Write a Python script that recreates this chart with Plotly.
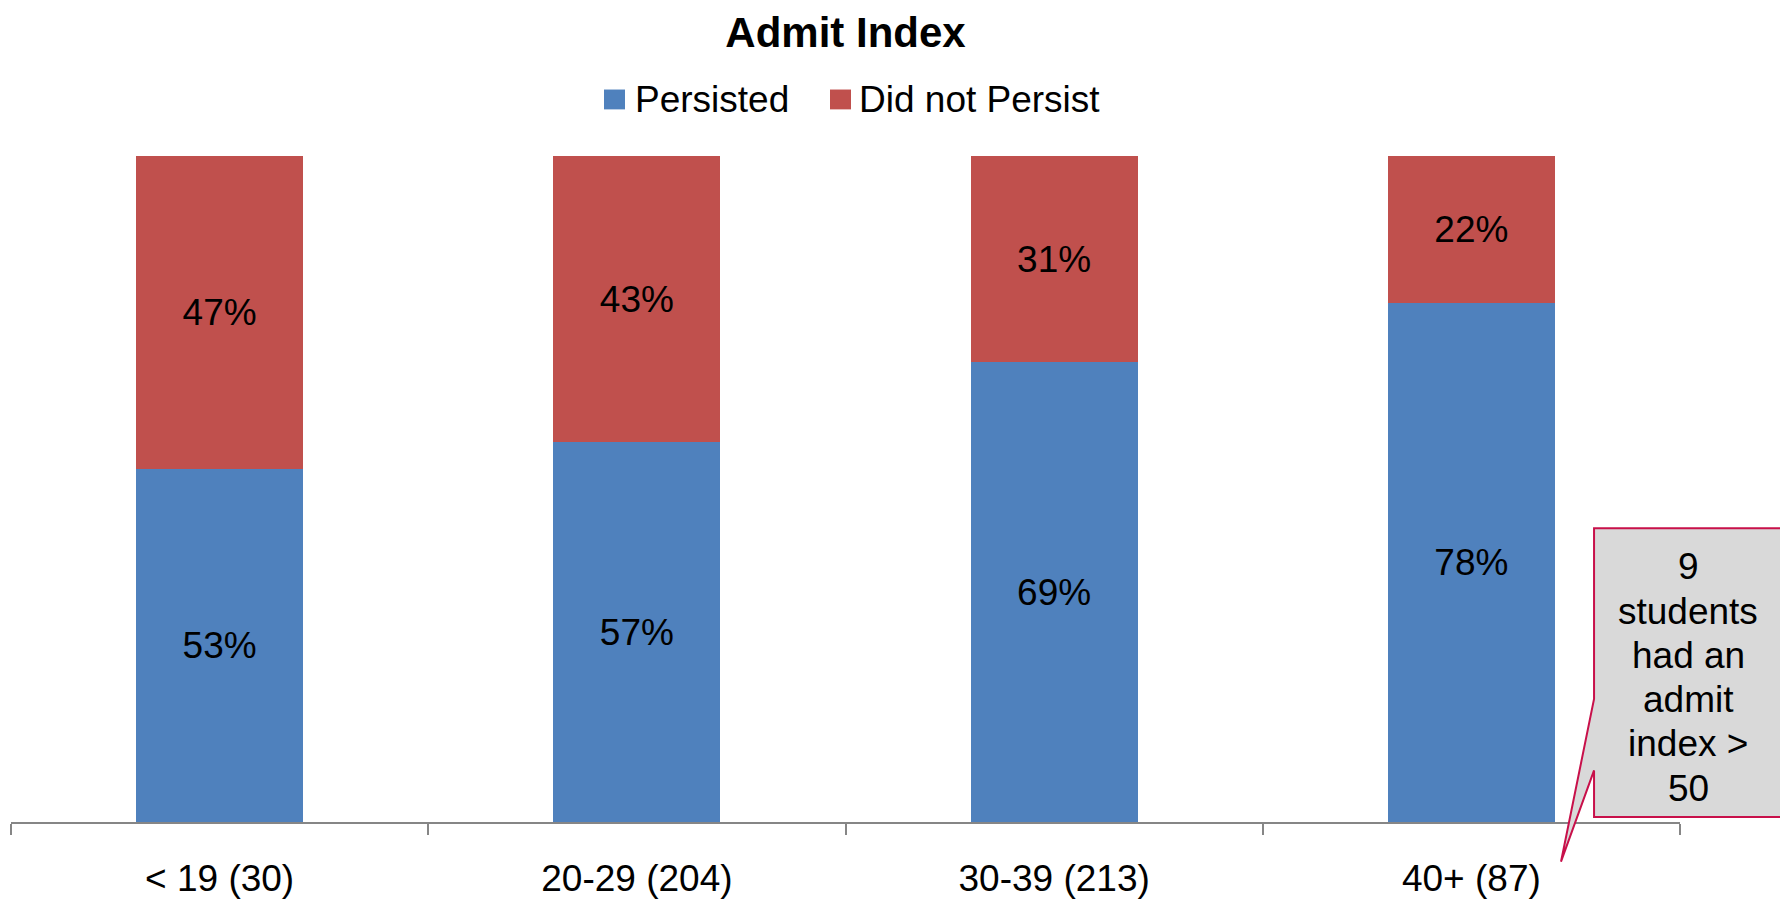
import plotly.graph_objects as go

categories = ["< 19 (30)", "20-29 (204)", "30-39 (213)", "40+ (87)"]
persisted = [53, 57, 69, 78]
did_not_persist = [47, 43, 31, 22]
series_names = ["Persisted", "Did not Persist"]
colors = ["#4F81BD", "#C0504D"]
callout_lines = ["9", "students", "had an", "admit", "index >", "50"]

FONT = "Liberation Sans, Arial, sans-serif"

fig = go.Figure()
for name, vals, col in zip(series_names, [persisted, did_not_persist], colors):
    fig.add_trace(go.Bar(
        x=categories, y=vals, name=name, marker=dict(color=col, line=dict(width=0)),
        texttemplate="%{y}%", textposition="inside", insidetextanchor="middle",
        textfont=dict(family=FONT, size=37, color="black"), showlegend=False,
    ))

fig.update_layout(
    barmode="stack", bargap=0.6,
    width=1780, height=894,
    margin=dict(l=3, r=108, t=148, b=75),
    plot_bgcolor="white", paper_bgcolor="white",
    font=dict(family=FONT, size=37, color="black"),
    title=dict(text="Admit Index", x=0.5, xref="paper", xanchor="center",
               y=1 - 24 / 894, yanchor="middle",
               font=dict(family=FONT, size=42, weight="bold", color="black")),
)
fig.update_xaxes(
    showline=True, linecolor="#868686", linewidth=2,
    ticks="outside", tickson="boundaries", ticklen=11, tickcolor="#868686", tickwidth=2,
    tickfont=dict(family=FONT, size=37, color="black"), ticklabelstandoff=23,
    showgrid=False, zeroline=False,
)
fig.update_yaxes(range=[0, 100], visible=False, showgrid=False, zeroline=False)

# Manual legend
leg = [
    dict(sq=(0.3553, 0.3679), tx=0.3727),
    dict(sq=(0.4907, 0.5033), tx=0.5069),
]
for name, col, L in zip(series_names, colors, leg):
    fig.add_shape(type="rect", xref="paper", yref="paper",
                  x0=L["sq"][0], x1=L["sq"][1], y0=1.070, y1=1.0998,
                  fillcolor=col, line=dict(width=0))
    fig.add_annotation(text=name, xref="paper", yref="paper", x=L["tx"], y=1.085,
                       xanchor="left", yanchor="middle", showarrow=False,
                       font=dict(family=FONT, size=37, color="black"))

# Callout box with pointer
x0, x1, yt, yb = 0.9485, 1.0629, 0.4411, 0.0075
p1, p2, tipx, tipy = 0.0775, 0.1848, 0.9287, -0.0596
path = (f"M {x0},{yt} L {x1},{yt} L {x1},{yb} L {x0},{yb} "
        f"L {x0},{p1} L {tipx},{tipy} L {x0},{p2} Z")
fig.add_shape(type="path", path=path, xref="paper", yref="paper",
              fillcolor="#D9D9D9", line=dict(color="#C8104A", width=2))
y_first, step = (827 - 570) / 671, 44.6 / 671
for i, t in enumerate(callout_lines):
    fig.add_annotation(text=t, xref="paper", yref="paper", x=1.0048, y=y_first - i * step,
                       xanchor="center", yanchor="middle", showarrow=False,
                       font=dict(family=FONT, size=37, color="black"))

fig.write_html("out.html")
